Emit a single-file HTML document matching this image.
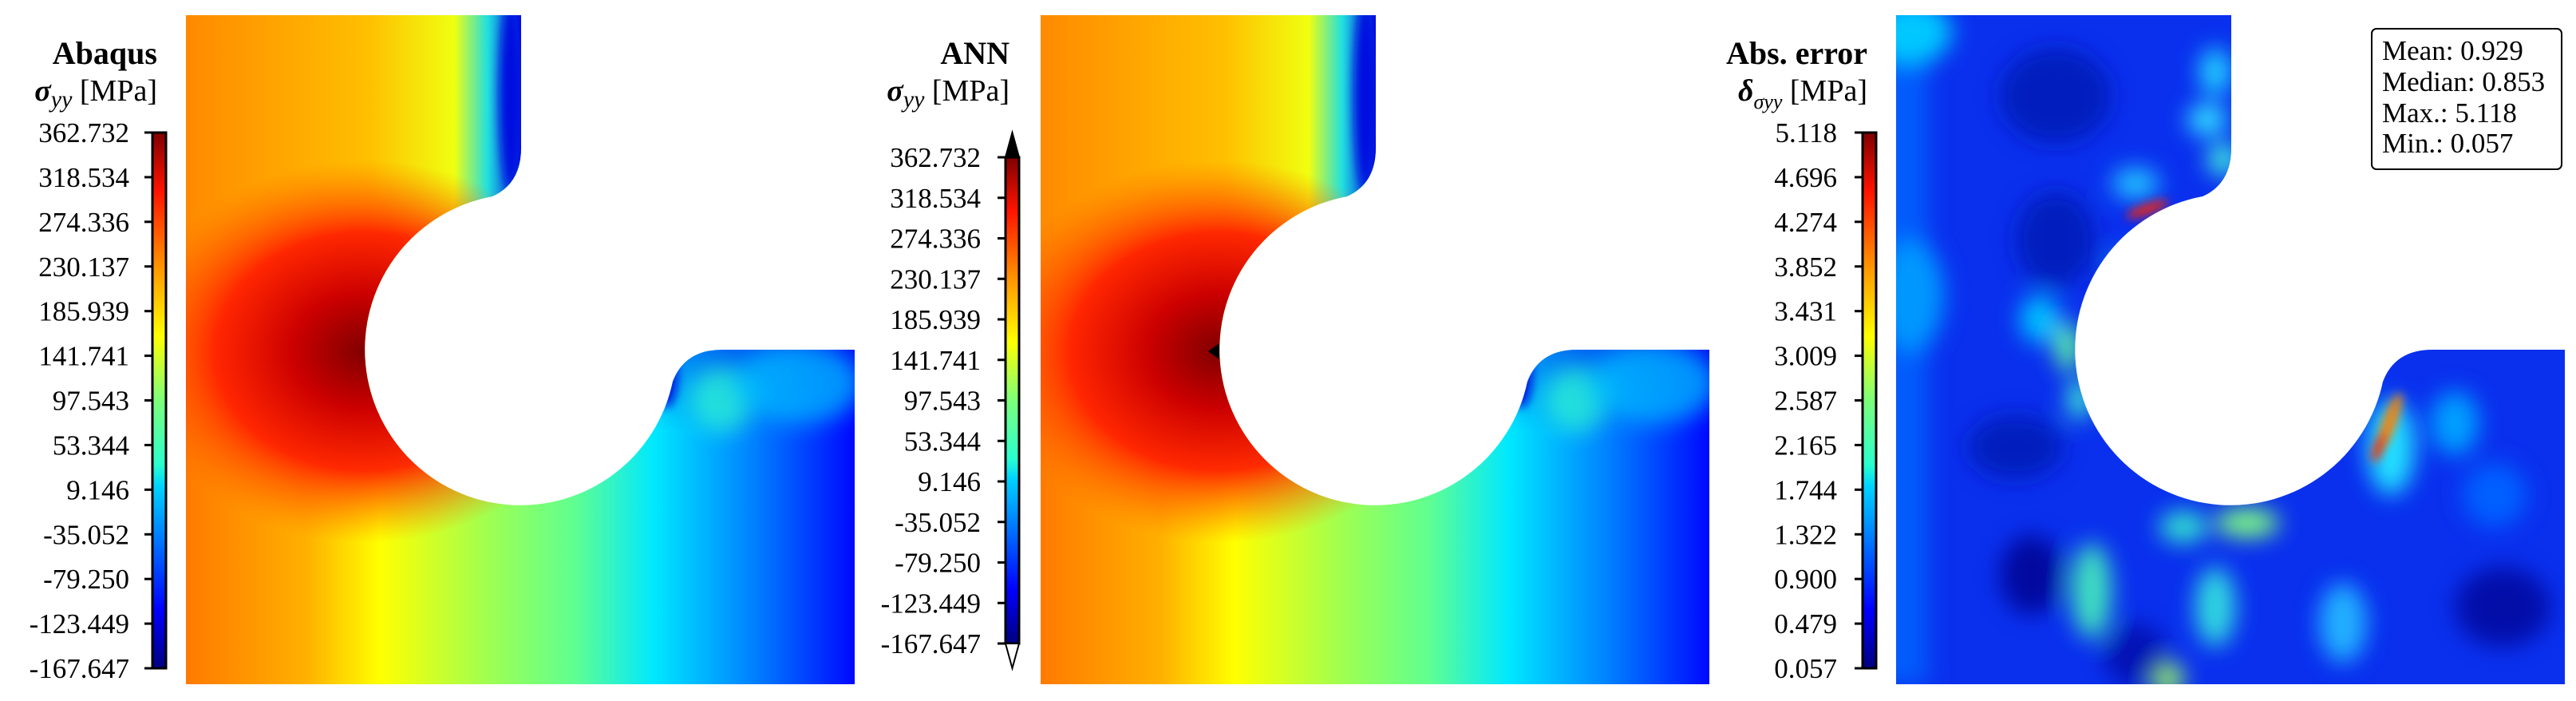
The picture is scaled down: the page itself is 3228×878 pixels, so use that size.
<!DOCTYPE html>
<html><head><meta charset="utf-8">
<style>
html,body{margin:0;padding:0;background:#fff;}
svg{display:block;}
text{font-family:"Liberation Serif",serif;fill:#000;}
</style></head>
<body>
<svg id="fig" width="3228" height="878" viewBox="0 0 3228 878" xmlns="http://www.w3.org/2000/svg">
<defs>
  <linearGradient id="jet" x1="0" y1="1" x2="0" y2="0">
    <stop offset="0" stop-color="#00007f"/>
    <stop offset="0.11" stop-color="#0000ff"/>
    <stop offset="0.34" stop-color="#00d4ff"/>
    <stop offset="0.38" stop-color="#29ffce"/>
    <stop offset="0.5" stop-color="#7dff7a"/>
    <stop offset="0.62" stop-color="#ffff00"/>
    <stop offset="0.75" stop-color="#ff9400"/>
    <stop offset="0.89" stop-color="#ff1300"/>
    <stop offset="1" stop-color="#7f0000"/>
  </linearGradient>
  <linearGradient id="topGrad" x1="233" y1="0" x2="653" y2="0" gradientUnits="userSpaceOnUse">
    <stop offset="0" stop-color="#ff8a00"/>
    <stop offset="0.55" stop-color="#ffc000"/>
    <stop offset="0.8" stop-color="#f0ff10"/>
    <stop offset="0.9" stop-color="#20e0e0"/>
    <stop offset="1" stop-color="#0010e0"/>
  </linearGradient>
  <linearGradient id="botGrad" x1="233" y1="0" x2="1071" y2="0" gradientUnits="userSpaceOnUse">
    <stop offset="0" stop-color="#ff7a00"/>
    <stop offset="0.18" stop-color="#ffb000"/>
    <stop offset="0.29" stop-color="#ffff00"/>
    <stop offset="0.45" stop-color="#a0ff50"/>
    <stop offset="0.58" stop-color="#60ff90"/>
    <stop offset="0.7" stop-color="#00e8ff"/>
    <stop offset="0.85" stop-color="#0080ff"/>
    <stop offset="1" stop-color="#0008ff"/>
  </linearGradient>
  <linearGradient id="vmask" x1="0" y1="19" x2="0" y2="857" gradientUnits="userSpaceOnUse">
    <stop offset="0.3" stop-color="#fff"/>
    <stop offset="0.62" stop-color="#000"/>
  </linearGradient>
  <mask id="topMask"><rect x="0" y="0" width="1100" height="878" fill="url(#vmask)"/></mask>
  <radialGradient id="redBlob" cx="457" cy="440" r="300" gradientUnits="userSpaceOnUse" gradientTransform="translate(457 440) scale(1 0.8) translate(-457 -440)">
    <stop offset="0" stop-color="#800000"/>
    <stop offset="0.3" stop-color="#cc0000" stop-opacity="1"/>
    <stop offset="0.62" stop-color="#ff2000" stop-opacity="0.95"/>
    <stop offset="0.85" stop-color="#ff5000" stop-opacity="0.4"/>
    <stop offset="1" stop-color="#ff7000" stop-opacity="0"/>
  </radialGradient>
  <clipPath id="shape">
    <path d="M0 19 L420 19 L420 185 Q420 230 384 246 A195 195 0 1 0 610 478 Q625 438 672 438 L838 438 L838 857 L0 857 Z"/>
  </clipPath>
  <filter id="blur" x="-50%" y="-50%" width="200%" height="200%"><feGaussianBlur stdDeviation="14"/></filter>
  <filter id="blur2" x="-50%" y="-50%" width="200%" height="200%"><feGaussianBlur stdDeviation="6"/></filter>
</defs>

<g id="field1" transform="translate(233,0)">
  <g clip-path="url(#shape)">
    <g transform="translate(-233,0)">
      <rect x="233" y="19" width="838" height="838" fill="url(#botGrad)"/>
      <rect x="233" y="19" width="838" height="838" fill="url(#topGrad)" mask="url(#topMask)"/>
      <rect x="233" y="19" width="838" height="838" fill="url(#redBlob)"/>
      <ellipse cx="640" cy="120" rx="14" ry="120" fill="#0010e0" filter="url(#blur2)"/>
      <ellipse cx="835" cy="470" rx="14" ry="40" fill="#0010e0" filter="url(#blur2)"/>
      <ellipse cx="905" cy="500" rx="40" ry="40" fill="#30ffd0" filter="url(#blur)" opacity="0.7"/>
      <ellipse cx="1000" cy="480" rx="80" ry="50" fill="#00c8ff" filter="url(#blur)" opacity="0.7"/>
    </g>
  </g>
</g>
<use href="#field1" x="1071" y="0"/>
<path d="M1528 430 L1514 440 L1528 450 Z" fill="#000"/>

<g transform="translate(2376,0)">
  <g clip-path="url(#shape)">
    <rect x="0" y="19" width="838" height="838" fill="#0a30ee"/>
    <g filter="url(#blur)">
      <rect x="-40" y="19" width="80" height="838" fill="#0068ff" opacity="0.8"/>
      <ellipse cx="20" cy="40" rx="50" ry="40" fill="#00c8ff"/>
      <ellipse cx="20" cy="370" rx="40" ry="70" fill="#0098ff"/>
      <ellipse cx="200" cy="120" rx="70" ry="60" fill="#0018b0" opacity="0.8"/>
      <ellipse cx="200" cy="300" rx="50" ry="60" fill="#0018b0" opacity="0.8"/>
      <ellipse cx="330" cy="330" rx="60" ry="15" fill="#20e0ff"/>
      <ellipse cx="300" cy="230" rx="30" ry="20" fill="#20c0ff"/>
      <ellipse cx="390" cy="150" rx="25" ry="20" fill="#30e0ff"/>
      <ellipse cx="410" cy="200" rx="20" ry="20" fill="#40f0e0"/>
      <ellipse cx="400" cy="90" rx="20" ry="30" fill="#20d0ff"/>
      <ellipse cx="180" cy="400" rx="25" ry="30" fill="#00c0ff"/>
      <ellipse cx="215" cy="435" rx="15" ry="30" fill="#60ffa0"/>
      <ellipse cx="230" cy="500" rx="15" ry="25" fill="#40f0d0"/>
      <ellipse cx="150" cy="560" rx="60" ry="40" fill="#0018b0" opacity="0.8"/>
      <ellipse cx="440" cy="655" rx="40" ry="18" fill="#80ff80"/>
      <ellipse cx="360" cy="660" rx="30" ry="20" fill="#30e0d0"/>
      <ellipse cx="245" cy="740" rx="25" ry="60" fill="#40e0c0"/>
      <ellipse cx="400" cy="760" rx="25" ry="50" fill="#30d8e0"/>
      <ellipse cx="340" cy="850" rx="20" ry="20" fill="#a0ff60"/>
      <ellipse cx="620" cy="560" rx="30" ry="60" fill="#20e0ff"/>
      <ellipse cx="700" cy="530" rx="30" ry="40" fill="#00a0ff"/>
      <ellipse cx="750" cy="620" rx="40" ry="40" fill="#0060ff"/>
      <ellipse cx="560" cy="780" rx="30" ry="50" fill="#20b0ff"/>
      <ellipse cx="170" cy="720" rx="40" ry="50" fill="#00008c" opacity="0.8"/>
      <ellipse cx="300" cy="820" rx="40" ry="40" fill="#000090" opacity="0.6"/>
      <ellipse cx="760" cy="760" rx="60" ry="50" fill="#00008c" opacity="0.7"/>
      <ellipse cx="480" cy="540" rx="40" ry="40" fill="#0028e0"/>
    </g>
    <g filter="url(#blur2)">
      <ellipse cx="315" cy="262" rx="28" ry="6" fill="#ff2000" transform="rotate(-20 315 262)"/>
      <ellipse cx="618" cy="530" rx="8" ry="40" fill="#ff8000" transform="rotate(20 618 530)"/>
      <ellipse cx="605" cy="560" rx="6" ry="20" fill="#ff3000" transform="rotate(20 605 560)"/>
    </g>
  </g>
</g>

<g>
  <rect x="2972" y="36" width="238" height="176" rx="6" ry="6" fill="#fff" stroke="#000" stroke-width="2"/>
  <text x="2985" y="75" font-size="35">Mean: 0.929</text>
  <text x="2985" y="114" font-size="35">Median: 0.853</text>
  <text x="2985" y="153" font-size="35">Max.: 5.118</text>
  <text x="2985" y="191" font-size="35">Min.: 0.057</text>
</g>

<text x="197" y="80" font-size="40" font-weight="bold" text-anchor="end">Abaqus</text>
<text x="197" y="126" font-size="38" text-anchor="end"><tspan font-weight="bold" font-style="italic">σ</tspan><tspan font-style="italic" font-size="30" dy="8">yy</tspan><tspan dy="-8"> [MPa]</tspan></text>
<text x="1265" y="80" font-size="40" font-weight="bold" text-anchor="end">ANN</text>
<text x="1265" y="126" font-size="38" text-anchor="end"><tspan font-weight="bold" font-style="italic">σ</tspan><tspan font-style="italic" font-size="30" dy="8">yy</tspan><tspan dy="-8"> [MPa]</tspan></text>
<text x="2340" y="80" font-size="40" font-weight="bold" text-anchor="end">Abs. error</text>
<text x="2340" y="126" font-size="38" text-anchor="end"><tspan font-weight="bold" font-style="italic">δ</tspan><tspan font-style="italic" font-size="26" dy="10">σyy</tspan><tspan dy="-10"> [MPa]</tspan></text>

<g id="cbars"></g>
</svg>
<script>
const stressTicks = ["362.732","318.534","274.336","230.137","185.939","141.741","97.543","53.344","9.146","-35.052","-79.250","-123.449","-167.647"];
const errorTicks = ["5.118","4.696","4.274","3.852","3.431","3.009","2.587","2.165","1.744","1.322","0.900","0.479","0.057"];
const NS = "http://www.w3.org/2000/svg";
const host = document.getElementById('cbars');
function mk(tag, attrs){const e=document.createElementNS(NS,tag);for(const k in attrs)e.setAttribute(k,attrs[k]);return e;}
function colorbar(name, x0, top, bottom, labels, labelX, extend){
  const g = mk('g',{});
  
  
  const w = 17;
  const bar = mk('rect',{x:x0,y:top,width:w,height:bottom-top,fill:'url(#jet)',stroke:'#000','stroke-width':3});
  
  
  g.appendChild(bar);
  if (extend){
    const up = mk('polygon',{points:`${x0},${top} ${x0+w},${top} ${x0+w/2},${top-31}`,fill:'#000',stroke:'#000','stroke-width':2});
    
    
    g.appendChild(up);
    const dn = mk('polygon',{points:`${x0},${bottom} ${x0+w},${bottom} ${x0+w/2},${bottom+31}`,fill:'#fff',stroke:'#000','stroke-width':2});
    
    
    g.appendChild(dn);
  }
  const n = labels.length;
  labels.forEach((lab,i)=>{
    const y = top + (bottom-top)*i/(n-1);
    const t = mk('line',{x1:x0-10,y1:y,x2:x0,y2:y,stroke:'#000','stroke-width':3});
    
    
    g.appendChild(t);
    const tx = mk('text',{x:labelX,y:y+12,'font-size':35,'text-anchor':'end'});
    
    
    tx.textContent = lab;
    g.appendChild(tx);
  });
  host.appendChild(g);
}
colorbar('abaqus-colorbar', 191, 166, 837, stressTicks, 162, false);
colorbar('ann-colorbar', 1260, 197, 806, stressTicks, 1229, true);
colorbar('error-colorbar', 2334, 166, 837, errorTicks, 2302, false);
</script>
</body></html>
